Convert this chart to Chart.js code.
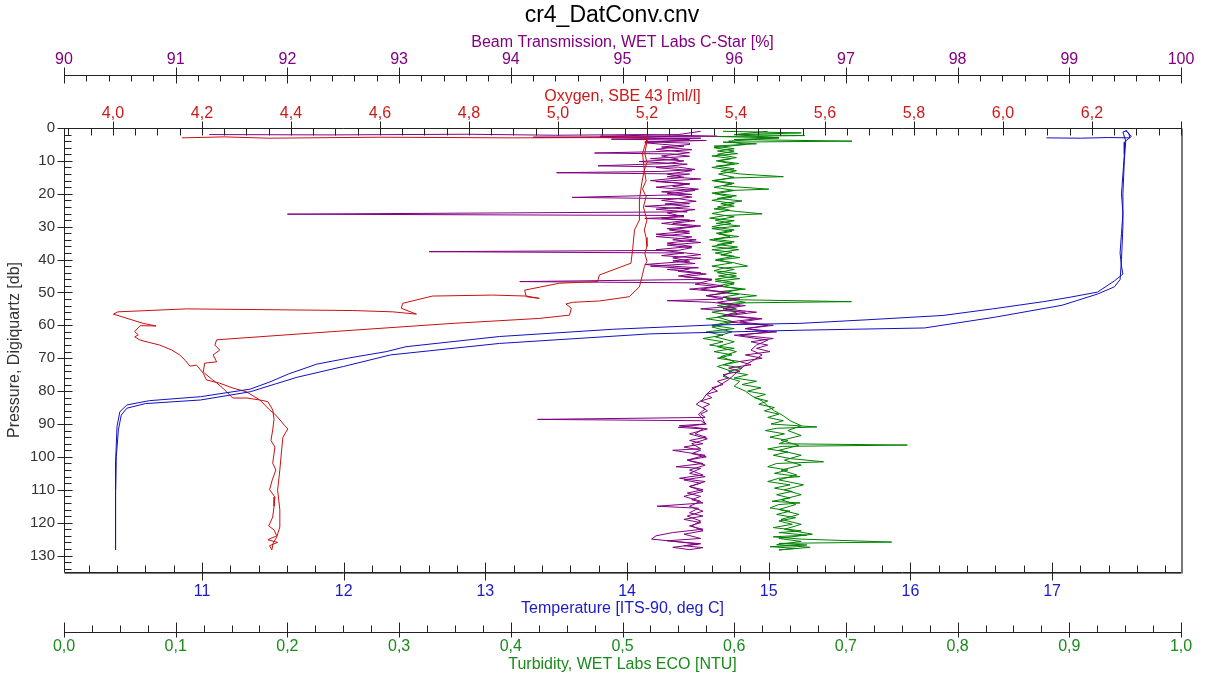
<!DOCTYPE html>
<html>
<head>
<meta charset="utf-8">
<title>cr4_DatConv.cnv</title>
<script src="https://cdn.jsdelivr.net/npm/chart.js@4.4.1/dist/chart.umd.min.js"></script>
<style>
  html, body { margin: 0; padding: 0; background: #fff; }
  #wrap { width: 1208px; height: 678px; }
</style>
</head>
<body>
<div id="wrap"><canvas id="chart" width="1208" height="678"></canvas></div>
<script>
// tick values and labels
const pressureTicks = [0, 10, 20, 30, 40, 50, 60, 70, 80, 90, 100, 110, 120, 130];
const beamTicks = [90, 91, 92, 93, 94, 95, 96, 97, 98, 99, 100];
const oxygenTicks = [4.0, 4.2, 4.4, 4.6, 4.8, 5.0, 5.2, 5.4, 5.6, 5.8, 6.0, 6.2];
const oxygenTickLabels = ['4,0', '4,2', '4,4', '4,6', '4,8', '5,0', '5,2', '5,4', '5,6', '5,8', '6,0', '6,2'];
const temperatureTicks = [11, 12, 13, 14, 15, 16, 17];
const turbidityTicks = [0, 0.1, 0.2, 0.3, 0.4, 0.5, 0.6, 0.7, 0.8, 0.9, 1.0];
const turbidityTickLabels = ['0,0', '0,1', '0,2', '0,3', '0,4', '0,5', '0,6', '0,7', '0,8', '0,9', '1,0'];

// profiles: [pressure db, value] - down cast then up cast
const temperatureProfile = [
  [3.0, 16.96], [3.1, 17.2], [2.9, 17.4], [3.0, 17.55], [1.5, 17.54], [0.8, 17.52], [2.5, 17.56], [4.3, 17.51],
  [8, 17.51], [14, 17.50], [20, 17.49], [26, 17.50], [32, 17.49], [38, 17.48], [42, 17.49], [44.4, 17.50],
  [46.5, 17.44], [49.9, 17.32], [51.5, 17.12], [52.8, 16.94], [55.0, 16.58], [57.0, 16.23], [58.3, 15.7],
  [59.4, 15.22], [59.9, 14.6], [61.2, 13.9], [63.4, 13.10], [66.5, 12.44], [68.0, 12.30], [69.9, 12.04],
  [71.8, 11.81], [74.8, 11.61], [77.2, 11.48], [79.4, 11.34], [81.7, 10.99], [82.9, 10.63], [84.2, 10.47],
  [86.3, 10.42], [90.8, 10.40], [101.9, 10.39], [113, 10.39], [128.3, 10.39],
  [110, 10.39], [100, 10.395], [91.8, 10.41], [87.3, 10.43], [85.2, 10.47], [83.8, 10.6], [82.7, 10.99],
  [80.2, 11.34], [77.8, 11.52], [75.8, 11.67], [72.5, 12.0], [69.0, 12.33], [65.5, 13.10], [62.6, 14.16],
  [61.5, 15.2], [60.8, 16.10], [57.5, 16.6], [53.9, 17.07], [50.5, 17.32], [48.3, 17.44], [46.1, 17.48],
  [40, 17.49], [30, 17.50], [20, 17.50], [10, 17.51], [4, 17.52], [1.2, 17.50], [0.8, 17.53]
];

const oxygenProfile = [
  [3.0, 4.155], [2.7, 4.25], [3.1, 4.35], [2.8, 4.6], [3.0, 4.9], [2.9, 5.1], [3.0, 5.199],
  [4.2, 5.2], [7.7, 5.195], [10.5, 5.2], [12.8, 5.194], [16.0, 5.198], [18.5, 5.19], [20.9, 5.198],
  [24.0, 5.192], [28.0, 5.2], [31.0, 5.194], [33.3, 5.198], [36.0, 5.2], [38.1, 5.195], [40.5, 5.2],
  [42.2, 5.194], [44.5, 5.19], [46.2, 5.187], [48.3, 5.183], [49.3, 5.175], [51.3, 5.160], [52.6, 5.093],
  [53.0, 5.033], [53.5, 5.018], [54.8, 5.030], [56.9, 5.026], [57.9, 4.958], [59.4, 4.764], [61.9, 4.494],
  [64.4, 4.233], [66.0, 4.229], [67.5, 4.240], [69.0, 4.225], [71.1, 4.233], [71.5, 4.206], [74.2, 4.203],
  [76.6, 4.224], [77.5, 4.233], [79.1, 4.247], [82.1, 4.269], [82.1, 4.301], [82.7, 4.33], [83.2, 4.348],
  [85.7, 4.359], [88.5, 4.362], [91.8, 4.359], [95.0, 4.355], [97.0, 4.364], [101.9, 4.359], [104.0, 4.366],
  [107.0, 4.358], [110.0, 4.352], [112.2, 4.364], [115.0, 4.362], [118.3, 4.359], [121.0, 4.35],
  [122.2, 4.362], [124.0, 4.368], [125.2, 4.348], [126.0, 4.37], [127.0, 4.352], [128.3, 4.357],
  [126.2, 4.36], [124.4, 4.368], [121.3, 4.375], [116.1, 4.375], [110.1, 4.37], [104.0, 4.375],
  [97.9, 4.379], [94.0, 4.382], [91.5, 4.393], [90.5, 4.386], [87.3, 4.366], [85.7, 4.352], [82.7, 4.33],
  [80.2, 4.300], [79.1, 4.270], [77.6, 4.240], [76.6, 4.210], [74.6, 4.203], [72.1, 4.188], [72.4, 4.173],
  [70.6, 4.162], [69.0, 4.150], [67.5, 4.132], [66.0, 4.105], [64.5, 4.061], [63.5, 4.049], [62.9, 4.057],
  [61.9, 4.049], [60.1, 4.061], [60.2, 4.097], [59.4, 4.068], [56.6, 4.001], [55.9, 4.011], [55.0, 4.165],
  [55.5, 4.539], [55.9, 4.629], [56.6, 4.682], [54.8, 4.648], [53.3, 4.651], [51.1, 4.718], [50.8, 4.853],
  [51.1, 4.929], [51.8, 4.958], [51.3, 4.929], [49.3, 4.925], [47.2, 5.003], [46.7, 5.089], [44.7, 5.093],
  [41.1, 5.164], [36.6, 5.168], [31.0, 5.172], [28.0, 5.183], [21.9, 5.183], [17.0, 5.188], [12.8, 5.194],
  [7.7, 5.19], [4.2, 5.198], [2.7, 5.199]
];

const beamProfile = [
  [2.0, 91.3], [2.1, 92.4], [1.9, 93.6], [2.2, 94.4], [2.0, 95.2], [2.5, 95.85], [2.8, 94.2], [3.1, 95.7],
  [3.4, 94.9], [3.8, 95.75], [4.2, 95.2], [4.6, 95.6],
  [5.0, 95.6], [5.8, 95.35], [6.6, 95.62], [7.2, 95.3], [7.6, 94.75], [7.9, 95.45], [8.6, 95.6], [9.3, 95.25],
  [10.0, 95.55], [10.8, 95.4], [11.5, 94.78], [11.9, 95.5], [12.6, 95.65], [13.2, 95.35], [13.6, 94.41],
  [14.0, 95.6], [14.8, 95.4], [15.5, 95.7], [16.3, 95.3], [17.0, 95.6], [17.8, 95.45], [18.6, 95.68],
  [19.4, 95.35], [20.2, 95.62], [21.1, 94.55], [21.5, 95.5], [22.3, 95.66], [23.1, 95.38], [23.9, 95.6],
  [24.7, 95.3], [25.5, 95.58], [26.2, 92.0], [26.6, 95.55], [27.4, 95.35], [28.2, 95.65], [29.0, 95.45],
  [29.8, 95.7], [30.6, 95.4], [31.4, 95.6], [32.3, 95.3], [33.1, 95.62], [34.0, 95.45], [34.8, 95.7],
  [35.6, 95.4], [36.4, 95.62], [37.2, 95.5], [37.6, 93.27], [38.0, 95.55], [38.8, 95.35], [39.6, 95.7],
  [40.4, 95.45], [41.2, 95.65], [42.0, 95.25], [42.8, 95.6], [43.6, 95.5], [44.4, 95.75], [45.2, 95.55],
  [46.0, 95.8], [46.7, 94.08], [47.1, 95.7], [48.0, 95.9], [49.0, 95.7], [50.0, 95.95], [51.0, 95.75],
  [52.0, 96.05], [53.0, 95.85], [54.0, 96.1], [55.0, 95.9], [56.0, 96.2], [57.0, 95.95], [58.0, 96.25],
  [59.0, 96.05], [60.0, 96.35], [61.0, 96.1], [62.0, 96.3], [63.0, 96.05], [64.0, 96.35], [65.0, 96.15],
  [66.0, 96.3], [67.0, 96.2], [68.0, 96.32], [69.0, 96.1], [70.0, 96.25], [71.0, 96.05], [72.0, 96.15],
  [73.0, 95.95], [74.0, 96.05], [75.0, 95.9], [76.0, 95.95], [77.0, 95.85], [78.0, 95.9], [79.0, 95.8],
  [80.0, 95.85], [81.0, 95.75], [82.0, 95.8], [83.0, 95.7], [84.0, 95.78], [85.0, 95.72], [86.0, 95.76],
  [87.0, 95.7], [88.0, 95.74], [88.6, 94.24], [89.0, 95.7], [90.0, 95.75], [91.0, 95.5], [91.5, 95.72],
  [93.0, 95.65], [94.0, 95.75], [95.0, 95.6], [96.0, 95.72], [97.0, 95.55], [98.0, 95.7], [99.0, 95.62],
  [100.0, 95.75], [101.0, 95.58], [102.0, 95.72], [103.0, 95.48], [103.5, 95.7], [105.0, 95.6],
  [106.0, 95.74], [107.0, 95.55], [108.0, 95.7], [109.0, 95.6], [110.0, 95.72], [111.0, 95.58],
  [112.0, 95.7], [113.0, 95.62], [114.0, 95.72], [115.0, 95.31], [115.6, 95.68], [117.0, 95.6],
  [118.0, 95.72], [119.0, 95.55], [120.0, 95.7], [121.0, 95.6], [122.0, 95.72], [123.0, 95.45],
  [124.0, 95.3], [125.0, 95.26], [125.8, 95.5], [126.4, 95.7], [127.0, 95.55], [127.6, 95.72], [128.2, 95.6],
  [127.5, 95.45], [126.5, 95.68], [125.5, 95.4], [124.8, 95.7], [123.5, 95.55], [122.5, 95.72],
  [121.0, 95.62], [119.5, 95.7], [118.0, 95.58], [116.5, 95.72], [115.0, 95.6], [113.5, 95.7],
  [112.0, 95.55], [110.5, 95.72], [109.0, 95.6], [107.5, 95.74], [106.5, 95.51], [105.5, 95.72],
  [104.0, 95.6], [102.5, 95.74], [101.0, 95.58], [99.5, 95.74], [98.0, 95.45], [97.5, 95.7], [96.0, 95.62],
  [94.5, 95.76], [93.0, 95.6], [91.5, 95.76], [90.5, 95.51], [90.0, 95.74], [88.5, 95.72], [87.0, 95.68],
  [85.5, 95.74], [84.0, 95.66], [82.5, 95.72], [81.0, 95.75], [79.5, 95.8], [78.0, 95.88], [76.5, 95.95],
  [75.0, 96.0], [73.5, 96.05], [72.0, 96.1], [70.5, 96.18], [69.0, 96.25], [67.5, 96.15], [66.0, 96.2],
  [64.5, 96.3], [63.0, 96.0], [62.0, 96.38], [61.0, 96.1], [60.0, 96.3], [59.0, 95.95], [58.0, 96.2],
  [57.0, 95.9], [56.0, 96.1], [55.0, 95.7], [54.0, 96.05], [53.0, 95.8], [52.5, 95.4], [52.0, 95.9],
  [51.0, 95.75], [50.0, 95.95], [49.0, 95.6], [48.2, 95.85], [47.5, 95.65], [46.2, 95.8], [45.0, 95.5],
  [44.0, 95.7], [43.0, 95.4], [42.5, 95.68], [41.5, 95.2], [40.5, 95.6], [39.5, 95.45], [38.5, 95.7],
  [37.0, 95.3], [36.0, 95.62], [35.0, 95.4], [34.0, 95.66], [33.0, 95.3], [32.0, 95.6], [31.0, 95.42],
  [30.0, 95.65], [29.0, 95.35], [28.0, 95.6], [27.5, 95.2], [27.0, 95.55], [25.8, 95.4], [24.8, 95.65],
  [23.8, 95.2], [23.0, 95.6], [22.0, 95.35], [21.0, 95.62], [20.0, 95.4], [19.0, 95.65], [18.0, 95.3],
  [17.0, 95.6], [16.0, 95.25], [15.0, 95.55], [14.0, 95.4], [13.0, 95.62], [12.0, 95.3], [11.0, 95.58],
  [10.2, 95.15], [9.5, 95.5], [8.5, 95.35], [7.5, 95.6], [6.5, 95.3], [5.5, 95.55], [4.5, 95.2],
  [3.5, 95.6], [2.5, 94.8], [2.0, 95.5], [1.0, 95.7]
];

const turbidityProfile = [
  [1.0, 0.59], [1.5, 0.66], [2.0, 0.60], [2.3, 0.663], [2.6, 0.585], [3.0, 0.64], [3.5, 0.6], [4.0, 0.7055],
  [4.3, 0.59], [4.8, 0.62],
  [5.5, 0.582], [6.3, 0.6], [7.0, 0.585], [7.8, 0.603], [8.5, 0.58], [9.3, 0.598], [10.0, 0.586],
  [10.8, 0.604], [11.6, 0.584], [12.4, 0.6], [13.2, 0.588], [14.0, 0.606], [14.8, 0.644], [15.2, 0.598],
  [16.0, 0.582], [16.8, 0.6], [17.6, 0.59], [18.6, 0.631], [19.0, 0.596], [19.8, 0.58], [20.6, 0.602],
  [21.4, 0.585], [22.2, 0.607], [23.0, 0.588], [23.8, 0.6], [24.6, 0.582], [25.4, 0.603], [26.1, 0.625],
  [26.6, 0.592], [27.4, 0.578], [28.2, 0.6], [29.0, 0.584], [29.8, 0.605], [30.6, 0.58], [31.4, 0.598],
  [32.2, 0.586], [33.0, 0.604], [33.8, 0.582], [34.6, 0.6], [35.4, 0.585], [36.2, 0.603], [37.0, 0.58],
  [37.8, 0.598], [38.6, 0.588], [39.4, 0.605], [40.2, 0.583], [41.0, 0.6], [42.0, 0.612], [42.6, 0.59],
  [43.4, 0.582], [44.2, 0.602], [45.0, 0.586], [45.8, 0.605], [46.6, 0.583], [47.4, 0.6], [48.2, 0.59],
  [49.0, 0.61], [49.8, 0.585], [50.6, 0.604], [51.4, 0.59], [52.2, 0.6], [52.8, 0.705], [53.2, 0.6],
  [54.0, 0.585], [55.0, 0.602], [56.0, 0.58], [57.0, 0.598], [58.0, 0.575], [59.0, 0.595], [60.0, 0.58],
  [61.0, 0.6], [62.0, 0.575], [63.0, 0.59], [64.0, 0.572], [65.0, 0.59], [66.0, 0.578], [67.0, 0.6],
  [68.0, 0.582], [69.0, 0.598], [70.0, 0.585], [71.0, 0.605], [72.0, 0.59], [73.0, 0.607], [74.0, 0.595],
  [75.0, 0.612], [76.0, 0.6], [77.0, 0.62], [78.0, 0.607], [79.0, 0.624], [80.0, 0.612], [81.0, 0.628],
  [82.0, 0.618], [83.0, 0.63], [84.0, 0.622], [85.0, 0.636], [86.0, 0.627], [87.0, 0.64], [88.0, 0.63],
  [89.0, 0.644], [90.0, 0.633], [90.9, 0.674], [91.3, 0.638], [92.0, 0.628], [93.0, 0.645], [94.0, 0.632],
  [95.0, 0.648], [96.0, 0.64], [96.4, 0.755], [96.8, 0.643], [97.6, 0.63], [98.5, 0.648], [99.5, 0.635],
  [100.5, 0.65], [101.5, 0.68], [102.0, 0.638], [103.0, 0.63], [104.0, 0.648], [105.0, 0.636],
  [106.0, 0.659], [106.5, 0.64], [107.5, 0.63], [108.5, 0.65], [109.5, 0.636], [110.5, 0.652],
  [111.5, 0.638], [112.5, 0.65], [113.5, 0.634], [114.0, 0.659], [114.5, 0.64], [115.5, 0.632],
  [116.5, 0.65], [117.5, 0.638], [118.5, 0.655], [119.5, 0.64], [120.5, 0.652], [121.5, 0.635],
  [122.5, 0.66], [123.0, 0.64], [123.8, 0.665], [124.3, 0.635], [125.0, 0.66], [125.9, 0.741],
  [126.3, 0.64], [126.8, 0.665], [127.3, 0.632], [127.8, 0.655], [128.3, 0.64],
  [127.5, 0.668], [126.7, 0.638], [125.7, 0.66], [124.8, 0.64], [123.5, 0.67], [122.0, 0.645],
  [120.5, 0.66], [119.0, 0.642], [117.5, 0.658], [116.0, 0.64], [114.5, 0.655], [113.0, 0.642],
  [111.5, 0.66], [110.0, 0.645], [108.5, 0.662], [107.0, 0.64], [105.5, 0.656], [104.0, 0.642],
  [102.5, 0.66], [101.0, 0.645], [99.5, 0.66], [98.0, 0.64], [96.5, 0.658], [95.0, 0.642], [93.5, 0.66],
  [92.0, 0.648], [90.5, 0.66], [89.0, 0.65], [87.5, 0.644], [86.0, 0.636], [84.5, 0.63], [83.0, 0.625],
  [81.5, 0.616], [80.0, 0.61], [78.5, 0.6], [77.0, 0.605], [75.5, 0.59], [74.0, 0.598], [72.5, 0.585],
  [71.0, 0.6], [69.5, 0.588], [68.0, 0.602], [66.5, 0.585], [65.0, 0.6], [63.5, 0.583], [62.0, 0.598],
  [60.5, 0.58], [59.0, 0.6], [57.5, 0.585], [56.0, 0.602], [54.5, 0.588], [53.0, 0.61], [52.0, 0.593],
  [51.0, 0.62], [50.0, 0.592], [49.0, 0.606], [48.0, 0.585], [47.0, 0.6], [46.0, 0.583], [45.0, 0.602],
  [44.0, 0.585], [43.0, 0.6], [42.0, 0.58], [41.0, 0.598], [40.0, 0.584], [39.0, 0.6], [38.0, 0.583],
  [37.0, 0.604], [36.0, 0.58], [35.0, 0.598], [34.0, 0.578], [33.0, 0.596], [32.0, 0.584], [31.0, 0.6],
  [30.0, 0.58], [29.0, 0.597], [28.0, 0.583], [27.0, 0.6], [26.0, 0.58], [25.0, 0.596], [24.0, 0.585],
  [23.0, 0.6], [22.0, 0.58], [21.0, 0.598], [20.0, 0.583], [19.0, 0.6], [18.0, 0.582], [17.0, 0.598],
  [16.0, 0.58], [15.0, 0.6], [14.0, 0.586], [13.0, 0.602], [12.0, 0.58], [11.0, 0.6], [10.0, 0.584],
  [9.0, 0.602], [8.0, 0.585], [7.0, 0.6], [6.0, 0.582], [5.0, 0.61], [4.0, 0.595], [3.0, 0.64],
  [2.0, 0.6], [1.0, 0.63]
];

const FONT = '"Liberation Sans", Arial, sans-serif';
const COL_BEAM = '#800080';
const COL_OXY = '#cc1a1a';
const COL_TEMP = '#1a1ac8';
const COL_TURB = '#1a8a1a';

function toPoints(profile) {
  return profile.map(([p, v]) => ({ x: v, y: p }));
}

function useTicks(values) {
  return function(scale) {
    scale.ticks = values.map(v => ({ value: v }));
  };
}

function xAxis(pos, weight, min, max, height, ticks, labels, color, title, tickPad, titlePad) {
  return {
    type: 'linear',
    position: pos,
    weight: weight,
    min: min,
    max: max,
    bounds: 'data',
    afterFit: s => { s.height = height; },
    afterBuildTicks: useTicks(ticks),
    grid: { display: false, drawTicks: false },
    border: { display: false },
    ticks: {
      color: color,
      padding: tickPad,
      maxRotation: 0,
      autoSkip: false,
      font: { family: FONT, size: 16, lineHeight: '16px' },
      callback: (v, i) => labels ? labels[i] : String(v)
    },
    title: {
      display: true,
      text: title,
      color: color,
      font: { family: FONT, size: 16, lineHeight: '16px' },
      padding: titlePad
    }
  };
}

// small ticks drawn along each axis line, like the reference plot
const axisMarks = {
  id: 'axisMarks',
  afterDatasetsDraw(chart) {
    const { ctx, chartArea: a, scales } = chart;
    ctx.save();
    ctx.lineWidth = 1;
    ctx.strokeStyle = '#222';
    const line = (x1, y1, x2, y2) => {
      ctx.beginPath();
      ctx.moveTo(Math.round(x1) + 0.5, Math.round(y1) + 0.5);
      ctx.lineTo(Math.round(x2) + 0.5, Math.round(y2) + 0.5);
      ctx.stroke();
    };
    // plot frame
    line(a.left, a.top, a.right, a.top);
    line(a.left, a.top, a.left, a.bottom);
    line(a.left, a.bottom, a.right, a.bottom);
    ctx.strokeStyle = '#777';
    line(a.right, a.top, a.right, a.bottom + 1);
    line(a.right + 1, a.top, a.right + 1, a.bottom + 1);
    line(a.left, a.bottom + 1, a.right, a.bottom + 1);
    ctx.strokeStyle = '#222';

    // pressure ticks on left edge
    for (let k = 0; k <= 67; k++) {
      const y = scales.y.getPixelForValue(k * 2);
      if (k % 5 === 0) line(a.left - 7, y, a.left + 8, y);
      else line(a.left, y, a.left + 7, y);
    }
    // oxygen ticks on top edge
    for (let k = 78; k <= 128; k++) {
      const x = scales.xOxy.getPixelForValue(k * 0.05);
      if (k % 4 === 0) line(x, a.top - 7, x, a.top + 7);
      else line(x, a.top, x, a.top + 7);
    }
    // temperature ticks on bottom edge
    for (let k = 51; k <= 89; k++) {
      const x = scales.xTemp.getPixelForValue(k * 0.2);
      if (k % 5 === 0) line(x, a.bottom - 10, x, a.bottom + 8);
      else line(x, a.bottom - 7, x, a.bottom);
    }
    // beam transmission axis line
    const yb = scales.xBeam.bottom;
    line(a.left, yb, a.right, yb);
    for (let k = 450; k <= 500; k++) {
      const x = scales.xBeam.getPixelForValue(k * 0.2);
      if (k % 5 === 0) line(x, yb - 8, x, yb + 8);
      else line(x, yb, x, yb + 6);
    }
    // turbidity axis line
    const yt = scales.xTurb.top + 6;
    line(a.left, yt, a.right, yt);
    for (let k = 0; k <= 40; k++) {
      const x = scales.xTurb.getPixelForValue(k * 0.025);
      if (k % 4 === 0) line(x, yt - 10, x, yt + 5);
      else line(x, yt - 7, x, yt);
    }
    ctx.restore();
  }
};

// move the chart title to where the reference puts it
const titleShift = {
  id: 'titleShift',
  afterLayout(chart) {
    const t = chart.titleBlock;
    if (t) { t.left = 16; t.right = 1208; }
  }
};

const lineStyle = { showLine: true, pointRadius: 0, borderWidth: 1, fill: false, tension: 0 };

new Chart(document.getElementById('chart'), {
  type: 'scatter',
  data: {
    datasets: [
      Object.assign({ label: 'Temperature', data: toPoints(temperatureProfile), xAxisID: 'xTemp', yAxisID: 'y', borderColor: '#1010c0', order: 0 }, lineStyle),
      Object.assign({ label: 'Oxygen', data: toPoints(oxygenProfile), xAxisID: 'xOxy', yAxisID: 'y', borderColor: '#c81010', order: 1 }, lineStyle),
      Object.assign({ label: 'Beam Transmission', data: toPoints(beamProfile), xAxisID: 'xBeam', yAxisID: 'y', borderColor: '#800080', order: 2 }, lineStyle),
      Object.assign({ label: 'Turbidity', data: toPoints(turbidityProfile), xAxisID: 'xTurb', yAxisID: 'y', borderColor: '#008000', order: 3 }, lineStyle)
    ]
  },
  options: {
    responsive: false,
    animation: false,
    devicePixelRatio: 1,
    layout: { padding: { left: 0, right: 27, top: 0, bottom: 0 } },
    plugins: {
      legend: { display: false },
      tooltip: { enabled: false },
      title: {
        display: true,
        text: 'cr4_DatConv.cnv',
        color: '#000',
        font: { family: FONT, size: 23, weight: 'normal', lineHeight: '26px' },
        padding: { top: 3, bottom: 1 }
      }
    },
    scales: {
      xBeam: xAxis('top', 2, 90, 100, 45, beamTicks, null, COL_BEAM,
        'Beam Transmission, WET Labs C-Star [%]', 7, { top: 5, bottom: 0 }),
      xOxy: xAxis('top', 1, 3.89, 6.40, 53, oxygenTicks, oxygenTickLabels, COL_OXY,
        'Oxygen, SBE 43 [ml/l]', 6, { top: 14, bottom: 0 }),
      xTemp: xAxis('bottom', 1, 10.026, 17.91, 54, temperatureTicks, null, COL_TEMP,
        'Temperature [ITS-90, deg C]', 12, { top: 0, bottom: 9 }),
      xTurb: xAxis('bottom', 2, 0, 1, 52, turbidityTicks, turbidityTickLabels, COL_TURB,
        'Turbidity, WET Labs ECO [NTU]', 13, { top: 0, bottom: 5 }),
      y: {
        type: 'linear',
        position: 'left',
        reverse: true,
        min: 0,
        max: 135,
        bounds: 'data',
        afterFit: s => { s.width = 64; },
        afterBuildTicks: useTicks(pressureTicks),
        grid: { display: false, drawTicks: false },
        border: { display: false },
        ticks: {
          color: '#333',
          padding: 9,
          autoSkip: false,
          font: { family: FONT, size: 15, lineHeight: '16px' }
        },
        title: {
          display: true,
          text: 'Pressure, Digiquartz [db]',
          color: '#333',
          font: { family: FONT, size: 16, lineHeight: '16px' },
          padding: { top: 7, bottom: 0 }
        }
      }
    }
  },
  plugins: [titleShift, axisMarks]
});
</script>
</body>
</html>
